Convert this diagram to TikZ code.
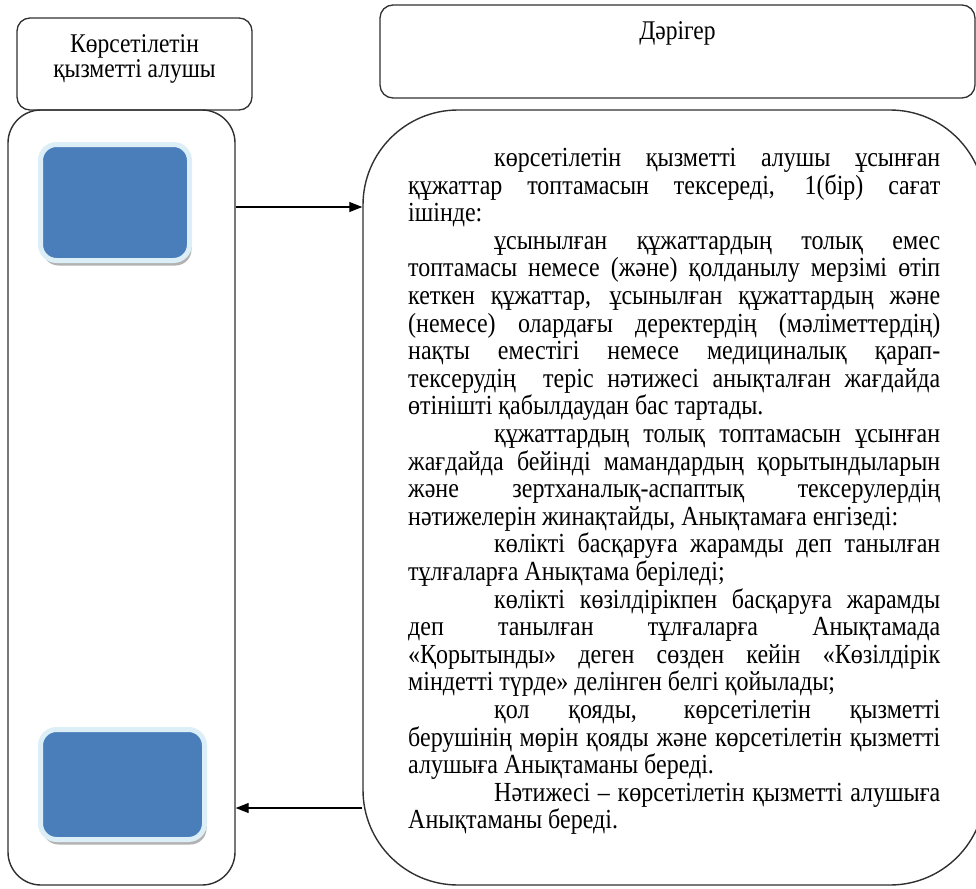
\documentclass[tikz,border=0pt]{standalone}
\usepackage{fontspec}
\usepackage{graphicx}
\setmainfont{Liberation Serif}
\usetikzlibrary{arrows.meta,shadows}

\definecolor{officeblue}{HTML}{4A7EBB}
\definecolor{glowblue}{HTML}{DCEFF7}
\definecolor{edgegray}{HTML}{303030}

\newcommand{\tallt}[1]{\scalebox{1}[1.15]{#1}}% text is drawn a little taller
\newcommand{\lnind}[1]{\noindent\makebox[\linewidth][s]{\hspace*{86pt}#1}\par}
\newcommand{\lnfull}[1]{\noindent\makebox[\linewidth][s]{#1}\par}
\newcommand{\lnend}[1]{\noindent\makebox[\linewidth][l]{#1}\par}

\tikzset{
  headbox/.style={draw=edgegray, line width=1.3pt, rounded corners=13pt, inner sep=0pt,
    font=\fontsize{23.5}{21.7}\selectfont},
  lanebox/.style={draw=edgegray, line width=1.4pt, inner sep=0pt},
  stepbox/.style={fill=officeblue, draw=glowblue, line width=5pt, rounded corners=16pt,
    drop shadow={shadow xshift=2pt, shadow yshift=-5pt, fill=black, opacity=0.3}},
  flow/.style={-{Triangle[length=13pt,width=10pt]}, line width=1.2pt, draw=black},
}

\begin{document}
\begin{tikzpicture}[x=1pt,y=-1pt]
    \clip (0,0) rectangle (976,888);% page frame
    % two lanes with their headers
    \node[headbox, minimum width=235pt, minimum height=92pt] (clientHead) at (134.5,64)
        {\raisebox{4.5pt}[\height][\depth]{\tallt{\begin{tabular}{@{}c@{}}Көрсетілетін\\қызметті алушы\end{tabular}}}};
    \node[headbox, minimum width=595pt, minimum height=93pt] (doctorHead) at (677.5,51.5)
        {\raisebox{18pt}[\height][\depth]{\tallt{Дәрігер}}};
    \node[lanebox, rounded corners=33pt, minimum width=227pt, minimum height=775pt] (clientLane) at (121.5,497.5) {};
    \node[lanebox, rounded corners=95pt, minimum width=622pt, minimum height=775pt] (doctorLane) at (674,497.5) {};
    % blue steps of the client
    \node[stepbox, minimum width=149pt, minimum height=116pt] (askStep) at (115,202.5) {};
    \node[stepbox, minimum width=164pt, minimum height=110pt] (getStep) at (122.5,784.5) {};
    % text of the doctor
    \node[anchor=north west, inner sep=0pt, font=\fontsize{24}{24}\selectfont] (steps) at (408,148)
        {\tallt{\begin{minipage}[t]{532pt}
        \lnind{көрсетілетін қызметті алушы ұсынған}
        \lnfull{құжаттар топтамасын тексереді, 1(бір) сағат}
        \lnend{ішінде:}
        \lnind{ұсынылған құжаттардың толық емес}
        \lnfull{топтамасы немесе (және) қолданылу мерзімі өтіп}
        \lnfull{кеткен құжаттар, ұсынылған құжаттардың және}
        \lnfull{(немесе) олардағы деректердің (мәліметтердің)}
        \lnfull{нақты еместігі немесе медициналық қарап-}
        \lnfull{тексерудің\ \ теріс нәтижесі анықталған жағдайда}
        \lnend{өтінішті қабылдаудан бас тартады.}
        \lnind{құжаттардың толық топтамасын ұсынған}
        \lnfull{жағдайда бейінді мамандардың қорытындыларын}
        \lnfull{және зертханалық-аспаптық тексерулердің}
        \lnend{нәтижелерін жинақтайды, Анықтамаға енгізеді:}
        \lnind{көлікті басқаруға жарамды деп танылған}
        \lnend{тұлғаларға Анықтама беріледі;}
        \lnind{көлікті көзілдірікпен басқаруға жарамды}
        \lnfull{деп танылған тұлғаларға Анықтамада}
        \lnfull{«Қорытынды» деген сөзден кейін «Көзілдірік}
        \lnend{міндетті түрде» делінген белгі қойылады;}
        \lnind{қол қояды, көрсетілетін қызметті}
        \lnfull{берушінің мөрін қояды және көрсетілетін қызметті}
        \lnend{алушыға Анықтаманы береді.}
        \lnind{Нәтижесі – көрсетілетін қызметті алушыға}
        \lnend{Анықтаманы береді.}
        \end{minipage}}};
    % connectors between the lanes
    \coordinate (rowA) at (0,207);
    \coordinate (rowB) at (0,808);
    \draw[flow] (clientLane.east |- rowA) -- (doctorLane.west |- rowA);
    \draw[flow] (doctorLane.west |- rowB) -- (clientLane.east |- rowB);
\end{tikzpicture}
\end{document}
